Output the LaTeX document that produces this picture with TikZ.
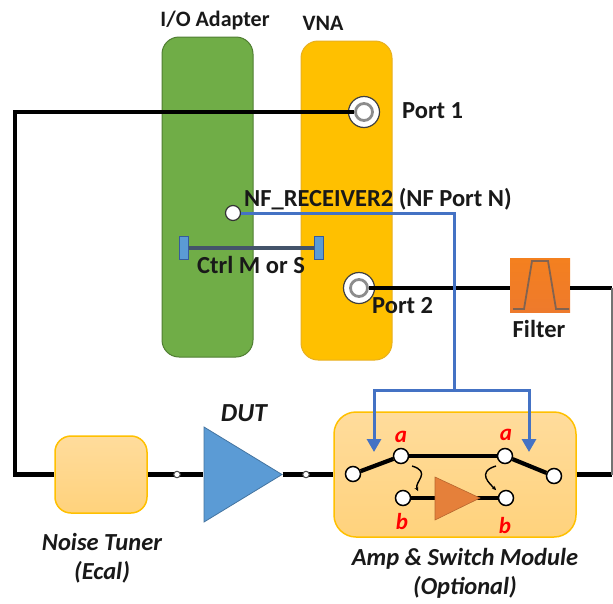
\documentclass[tikz,border=0pt]{standalone}
\usepackage{fontspec}
\setmainfont{Carlito}
\usetikzlibrary{arrows.meta}
\definecolor{gr}{HTML}{70AD47}
\definecolor{grd}{HTML}{507E32}
\definecolor{yel}{HTML}{FFC000}
\definecolor{yeld}{HTML}{E8B020}
\definecolor{lotop}{HTML}{FFDC9C}
\definecolor{lobot}{HTML}{FFD27C}
\definecolor{blu}{HTML}{4472C4}
\definecolor{dut}{HTML}{5B9BD5}
\definecolor{amp}{HTML}{E5803A}
\definecolor{ctl}{HTML}{44546A}
\definecolor{filttop}{HTML}{F4801F}
\definecolor{filtbot}{HTML}{EE7A2C}
\tikzset{
 x=1pt,y=-1pt,
 wire/.style={line width=4.2pt,black},
 lab/.style={font=\fontsize{24.5}{28}\selectfont\bfseries,text=black!90,inner sep=0pt},
 ilab/.style={font=\fontsize{24.5}{29}\selectfont\bfseries\itshape,text=black!90,inner sep=0pt,align=center},
 red lab/.style={font=\fontsize{23}{24}\selectfont\bfseries\itshape,text=red,inner sep=0pt},
 sw/.style={circle,draw=black,fill=white,line width=1.5pt,minimum size=15pt,inner sep=0pt},
 tiny/.style={circle,draw=black!70,fill=white,line width=1pt,minimum size=6.5pt,inner sep=0pt},
 panel/.style={rounded corners=17pt,line width=1pt},
 softbox/.style={rounded corners=16pt,draw=yel,line width=1.5pt,top color=lotop,bottom color=lobot},
 port/.style={circle,draw=black!75,fill=white,line width=1.2pt,minimum size=31pt,inner sep=0pt},
 portin/.style={circle,draw=black!45,fill=white,line width=2.8pt,minimum size=17pt,inner sep=0pt},
 bluew/.style={blu,line width=3pt},
 curl/.style={black,line width=1.4pt,-{Stealth[length=4pt,width=4pt]}},
 ctlcap/.style={draw=blu!80!black,fill=dut,minimum width=9pt,minimum height=23pt,inner sep=0pt},
}
\begin{document}
\begin{tikzpicture}
\useasboundingbox (0,0) rectangle (613,603);
% panels
\node[panel,draw=grd,fill=gr,minimum width=91pt,minimum height=320pt,inner sep=0pt] (adapter) at (207.5,197) {};
\node[panel,draw=yeld,fill=yel,minimum width=91pt,minimum height=319pt,inner sep=0pt] (vna) at (346.5,200.5) {};
\node[lab,font=\fontsize{22}{24}\selectfont\bfseries] (adl) at (215,21) {I/O Adapter};
\node[lab,font=\fontsize{22}{24}\selectfont\bfseries] (vnal) at (323,23) {VNA};
% boxes
\node[softbox,minimum width=92pt,minimum height=77pt,inner sep=0pt] (tuner) at (101,474.5) {};
\node[softbox,minimum width=242pt,minimum height=125pt,inner sep=0pt,rounded corners=22pt] (module) at (455,474.5) {};
\node[top color=filttop,bottom color=filtbot,minimum width=60pt,minimum height=54pt,inner sep=0pt] (filter) at (540,285) {};
\draw[ctl!65!filttop,line width=1.8pt] (513,309) -- (524,309) -- (532,261) -- (548,261) -- (556,309) -- (569,309);
% coordinates
\coordinate (cA) at (15,112);
\coordinate (cB) at (15,474.5);
\coordinate (cC) at (612,288);
\coordinate (cD) at (612,474.5);
\node[port] (p1) at (364,112) {};
\node[port] (p2) at (359,288) {};
\node[inner sep=0pt] (dutin) at (204,474.5) {};
\node[inner sep=0pt] (dutout) at (282,474.5) {};
\node[portin] (p1i) at (p1) {};
\node[portin] (p2i) at (p2) {};
% wires
\draw[wire] (p1i.west) -- (cA) -- (cB) -- (tuner.west);
\draw[wire] (tuner.east) -- (dutin);
\draw[wire] (dutout) -- (module.west);
\draw[wire] (p2i.east) -- (filter.west |- p2i.east);
\draw[wire] (filter.east |- cC) -- (cC);
\draw[wire] (module.east) -- (cD);
\draw[black!55,line width=1.4pt] (cC) -- (cD);
% dut
\fill[dut,draw=dut!75!black,line width=.8pt] (204,427) -- (282,474.5) -- (204,522) -- cycle;
\node[tiny] (t1) at (177,474.5) {};
\node[tiny] (t2) at (306,474.5) {};
\node[ilab,font=\fontsize{26}{28}\selectfont\bfseries\itshape] (dutl) at (244,413) {DUT};
% switch
\node[sw] (s0) at (353,474) {};
\node[sw] (sa1) at (401,456) {};
\node[sw] (sa2) at (505,456) {};
\node[sw] (s3) at (554,476) {};
\node[sw] (sb1) at (403,498) {};
\node[sw] (sb2) at (506,498) {};
\draw[wire] (s0) -- (sa1);
\draw[wire] (sa1) -- (sa2);
\draw[wire] (sa2) -- (s3);
\draw[wire,line width=3.4pt] (sb1) -- (sb2);
\fill[amp,draw=amp!80!black,line width=.6pt] (435,477) -- (480,498) -- (435,520) -- cycle;
\draw[curl] (412,466) .. controls (432,472) and (414,482) .. (418,491);
\draw[curl] (496,466) .. controls (476,472) and (490,484) .. (496,490);
% red labels
\node[red lab] (a1) at (401,437) {a};
\node[red lab] (a2) at (506,435) {a};
\node[red lab] (b1) at (402,522) {b};
\node[red lab] (b2) at (505,526) {b};
% blue
\node[circle,draw=black!80,fill=white,line width=1.2pt,minimum size=15pt,inner sep=0pt] (rx) at (233,213) {};
\coordinate (bj) at (454,213);
\coordinate (bb) at (454,390);
\coordinate (bl) at (374,390);
\coordinate (br) at (529,390);
\coordinate (tl) at (374,452);
\coordinate (tr) at (529,452);
\draw[bluew] (rx) -- (bj) -- (bb);
\draw[bluew,-{Triangle[length=13pt,width=14pt]}] (bb) -- (bl) -- (tl);
\draw[bluew,-{Triangle[length=13pt,width=14pt]}] (bb) -- (br) -- (tr);
% ctrl
\node[ctlcap] (c1) at (184,248) {};
\node[ctlcap] (c2) at (319,248) {};
\draw[ctl,line width=3.8pt] (c1) -- (c2);
% labels
\node[lab,anchor=west] (p1l) at (402,111) {Port 1};
\node[lab,anchor=west] (p2l) at (372,306) {Port 2};
\node[lab,anchor=west] (nfl) at (244,199) {NF\_RECEIVER2 (NF Port N)};
\node[lab,anchor=west] (ctll) at (197,265) {Ctrl M or S};
\node[lab] (fl) at (539,329) {Filter};
\node[ilab] (tl1) at (102,558) {Noise Tuner\\(Ecal)};
\node[ilab] (ml) at (465,573) {Amp \& Switch Module\\(Optional)};
\end{tikzpicture}
\end{document}
